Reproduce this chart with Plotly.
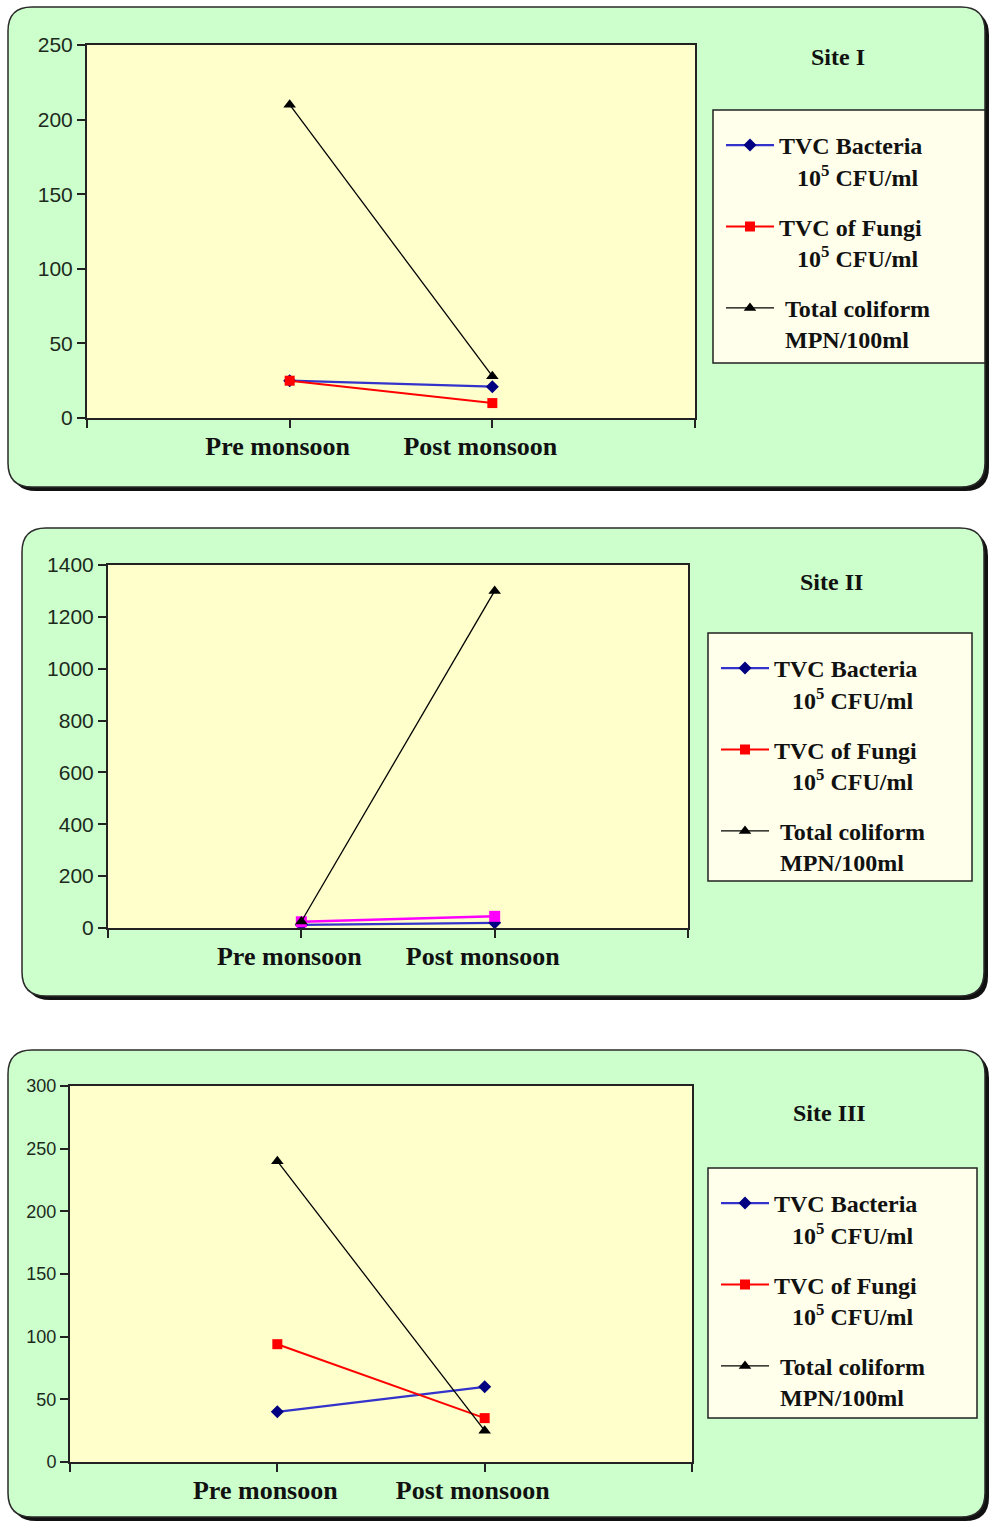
import plotly.graph_objects as go

W, H = 990, 1523

# ---------------- data ----------------
categories = ["Pre monsoon", "Post monsoon"]
site_titles = ["Site I", "Site II", "Site III"]
series_labels = [
    "TVC Bacteria<br>\u00a0\u00a0\u00a010<sup>5</sup> CFU/ml",
    "TVC of Fungi<br>\u00a0\u00a0\u00a010<sup>5</sup> CFU/ml",
    "\u00a0Total coliform<br>\u00a0MPN/100ml",
]
site1_bacteria = [25, 21]
site1_fungi = [25, 10]
site1_coliform = [210, 28]
site2_bacteria = [12, 20]
site2_fungi = [24, 45]
site2_coliform = [25, 1300]
site3_bacteria = [40, 60]
site3_fungi = [94, 35]
site3_coliform = [240, 25]
y_ranges = [[0, 250], [0, 1400], [0, 300]]
y_dticks = [50, 200, 50]

# ---------------- layout geometry (pixels) ----------------
plot_boxes = [(87, 45, 695, 418), (108, 565, 688, 928), (70, 1086, 692, 1462)]
panel_boxes = [(8, 7, 985, 487), (22, 528, 984, 996), (8, 1050, 985, 1517)]
legend_boxes = [(713, 110, 985, 363), (708, 633, 972, 881), (708, 1168, 977, 1418)]
title_pos = [(838, 57), (831, 582), (829, 1113)]
ytick_sizes = [21, 21, 18]

def px(x):
    return x / W

def py(y):
    return 1 - y / H

def rounded_path(x0, y0, x1, y1, r):
    pts = [
        f"M{px(x0 + r)},{py(y0)}",
        f"L{px(x1 - r)},{py(y0)}",
        f"Q{px(x1)},{py(y0)} {px(x1)},{py(y0 + r)}",
        f"L{px(x1)},{py(y1 - r)}",
        f"Q{px(x1)},{py(y1)} {px(x1 - r)},{py(y1)}",
        f"L{px(x0 + r)},{py(y1)}",
        f"Q{px(x0)},{py(y1)} {px(x0)},{py(y1 - r)}",
        f"L{px(x0)},{py(y0 + r)}",
        f"Q{px(x0)},{py(y0)} {px(x0 + r)},{py(y0)}",
        "Z",
    ]
    return " ".join(pts)

fig = go.Figure()

xvals = list(range(len(categories)))
site_data = [
    (site1_bacteria, site1_fungi, site1_coliform),
    (site2_bacteria, site2_fungi, site2_coliform),
    (site3_bacteria, site3_fungi, site3_coliform),
]
fungi_colors = ["#FF0000", "#FF00FF", "#FF0000"]

shapes = []
annotations = []
layout_extra = {}

for i, (bact, fungi, coli) in enumerate(site_data):
    n = i + 1
    xa = "x" if n == 1 else f"x{n}"
    ya = "y" if n == 1 else f"y{n}"
    leg = "legend" if n == 1 else f"legend{n}"

    fig.add_trace(go.Scatter(
        x=xvals, y=bact, name=series_labels[0], mode="lines+markers",
        line=dict(color="#3333CC", width=2.2),
        marker=dict(symbol="diamond", size=10, color="#000080"),
        xaxis=xa, yaxis=ya, legend=leg, legendgroup=f"b{n}",
    ))
    if fungi_colors[i] == "#FF0000":
        fig.add_trace(go.Scatter(
            x=xvals, y=fungi, name=series_labels[1], mode="lines+markers",
            line=dict(color="#FF0000", width=2),
            marker=dict(symbol="square", size=10, color="#FF0000"),
            xaxis=xa, yaxis=ya, legend=leg, legendgroup=f"f{n}",
        ))
    else:
        fig.add_trace(go.Scatter(
            x=xvals, y=fungi, name=series_labels[1], mode="lines+markers",
            line=dict(color=fungi_colors[i], width=2.5),
            marker=dict(symbol="square", size=11, color=fungi_colors[i]),
            xaxis=xa, yaxis=ya, showlegend=False, legendgroup=f"f{n}",
        ))
        fig.add_trace(go.Scatter(
            x=[None], y=[None], name=series_labels[1], mode="lines+markers",
            line=dict(color="#FF0000", width=2),
            marker=dict(symbol="square", size=10, color="#FF0000"),
            xaxis=xa, yaxis=ya, legend=leg, legendgroup=f"f{n}",
        ))
    fig.add_trace(go.Scatter(
        x=xvals, y=coli, name=series_labels[2], mode="lines+markers",
        line=dict(color="#000000", width=1.3),
        marker=dict(symbol="triangle-up", size=11, color="#000000"),
        xaxis=xa, yaxis=ya, legend=leg, legendgroup=f"c{n}",
    ))

    bx0, by0, bx1, by1 = plot_boxes[i]
    xkey = "xaxis" if n == 1 else f"xaxis{n}"
    ykey = "yaxis" if n == 1 else f"yaxis{n}"
    layout_extra[xkey] = dict(
        domain=[px(bx0), px(bx1)], anchor=ya, range=[-1, 2], automargin=False,
        tickmode="array", tickvals=xvals, ticktext=categories,
        ticks="outside", ticklen=8, tickwidth=1.5, tickcolor="#222",
        minor=dict(tickmode="array", tickvals=[-1, 2], ticks="outside",
                   ticklen=8, tickwidth=1.5, tickcolor="#222", showgrid=False),
        showline=True, mirror=True, linecolor="#222", linewidth=2,
        showgrid=False, zeroline=False, ticklabelshift=-12, ticklabelstandoff=-4,
        tickfont=dict(family="Liberation Serif", size=26, color="#111", weight="bold"),
        fixedrange=True,
    )
    layout_extra[ykey] = dict(
        domain=[py(by1), py(by0)], anchor=xa, range=y_ranges[i], automargin=False,
        dtick=y_dticks[i], tick0=0,
        ticks="outside", ticklen=8, tickwidth=1.5, tickcolor="#222",
        showline=True, mirror=True, linecolor="#222", linewidth=2,
        showgrid=False, zeroline=False,
        tickfont=dict(family="Liberation Sans", size=ytick_sizes[i], color="#1c2a1c"),
        fixedrange=True,
    )

    # panel shadow + panel box
    x0, y0, x1, y1 = panel_boxes[i]
    shapes.append(dict(type="path", xref="paper", yref="paper", layer="below",
                       path=rounded_path(x0 + 4, y0 + 4, x1 + 4, y1 + 4, 24),
                       fillcolor="#111111", line=dict(width=0)))
    shapes.append(dict(type="path", xref="paper", yref="paper", layer="below",
                       path=rounded_path(x0, y0, x1, y1, 24),
                       fillcolor="#CCFFCC", line=dict(color="#2a2a2a", width=1.5)))
    # plot area
    shapes.append(dict(type="rect", xref=f"{xa} domain", yref=f"{ya} domain",
                       x0=0, x1=1, y0=0, y1=1, layer="below",
                       fillcolor="#FFFFCC", line=dict(width=0)))
    # legend box
    lx0, ly0, lx1, ly1 = legend_boxes[i]
    shapes.append(dict(type="rect", xref="paper", yref="paper", layer="below",
                       x0=px(lx0), x1=px(lx1), y0=py(ly1), y1=py(ly0),
                       fillcolor="#FFFFEB", line=dict(color="#222", width=1.5)))
    # legend
    layout_extra[leg] = dict(
        x=px(lx0 + 8), y=py(ly0 + 13), xanchor="left", yanchor="top",
        bgcolor="rgba(0,0,0,0)", borderwidth=0, valign="top",
        tracegroupgap=16, itemwidth=48,
        font=dict(family="Liberation Serif", size=24, color="#111", weight="bold"),
        itemclick=False, itemdoubleclick=False,
    )
    tx, ty = title_pos[i]
    annotations.append(dict(
        text=site_titles[i], x=px(tx), y=py(ty), xref="paper", yref="paper",
        showarrow=False, xanchor="center", yanchor="middle",
        font=dict(family="Liberation Serif", size=24, color="#111", weight="bold"),
    ))

fig.update_layout(
    width=W, height=H, margin=dict(l=0, r=0, t=0, b=0, autoexpand=False),
    paper_bgcolor="white", plot_bgcolor="rgba(0,0,0,0)",
    shapes=shapes, annotations=annotations, showlegend=True,
    **layout_extra,
)

fig.write_html(
    "out.html",
    config={"displayModeBar": False},
    post_script="document.body.style.margin='0px';document.body.style.padding='0px';",
)
